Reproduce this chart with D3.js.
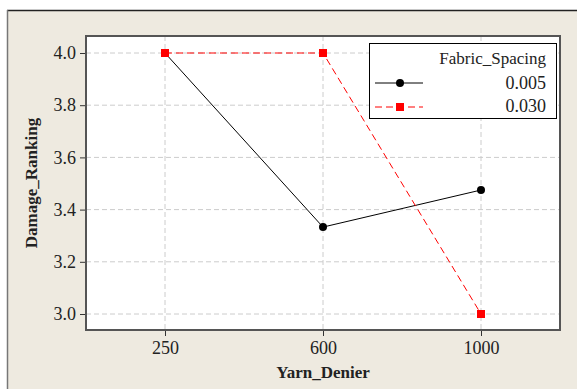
<!DOCTYPE html>
<html><head><meta charset="utf-8">
<script src="https://cdn.jsdelivr.net/npm/d3@7"></script>
<style>body{margin:0;background:#fff}svg{display:block}</style>
</head><body>
<script>
const categories = ["250", "600", "1000"];
const series005 = [4.0, 3.333, 3.475];
const series030 = [4.0, 4.0, 3.0];
const yTicks = [3.0, 3.2, 3.4, 3.6, 3.8, 4.0];
const legendTitle = "Fabric_Spacing";
const seriesNames = ["0.005", "0.030"];

const W = 577, H = 389;
const svg = d3.select("body").append("svg").attr("width", W).attr("height", H);
svg.append("rect").attr("x", 7).attr("y", 10).attr("width", W - 7).attr("height", H - 10).attr("fill", "#EEEAE0");
svg.append("line").attr("x1", 7).attr("x2", W).attr("y1", 10.5).attr("y2", 10.5).attr("stroke", "#222").attr("stroke-width", 1.5);
svg.append("line").attr("x1", 7.5).attr("x2", 7.5).attr("y1", 10).attr("y2", H).attr("stroke", "#777").attr("stroke-width", 1.5);

const L = 86, R = 560, T = 36, B = 330;
svg.append("rect").attr("x", L).attr("y", T).attr("width", R - L).attr("height", B - T).attr("fill", "#fff");

const x = d3.scalePoint().domain(categories).range([L, R]).padding(0.5);
const y = d3.scaleLinear().domain([3.0, 4.0]).range([314, 53]);

const font = "'Liberation Serif', 'Times New Roman', serif";

// grid
svg.append("g").selectAll("line").data(yTicks).join("line")
  .attr("x1", L).attr("x2", R).attr("y1", d => y(d)).attr("y2", d => y(d))
  .attr("stroke", "#ccc").attr("stroke-dasharray", "5,3");
svg.append("g").selectAll("line").data(categories).join("line")
  .attr("x1", d => x(d)).attr("x2", d => x(d)).attr("y1", T).attr("y2", B)
  .attr("stroke", "#ccc").attr("stroke-dasharray", "5,3");

// axes
const yAxis = svg.append("g").attr("transform", `translate(${L},0)`)
  .call(d3.axisLeft(y).tickValues(yTicks).tickFormat(d3.format(".1f")).tickSize(6).tickPadding(4));
const xAxis = svg.append("g").attr("transform", `translate(0,${B})`)
  .call(d3.axisBottom(x).tickSize(6).tickPadding(5));
[yAxis, xAxis].forEach(g => {
  g.select(".domain").remove();
  g.selectAll("line").attr("stroke", "#333");
  g.selectAll("text").attr("font-family", font).attr("font-size", 18).attr("fill", "#222");
});

// plot border
svg.append("rect").attr("x", L).attr("y", T).attr("width", R - L).attr("height", B - T)
  .attr("fill", "none").attr("stroke", "#555").attr("stroke-width", 2);

// lines
const line = d3.line().x((d, i) => x(categories[i])).y(d => y(d));
svg.append("path").datum(series005).attr("d", line).attr("fill", "none").attr("stroke", "#000").attr("stroke-width", 1);
svg.append("path").datum(series030).attr("d", line).attr("fill", "none").attr("stroke", "#f00").attr("stroke-width", 1).attr("stroke-dasharray", "7,4");
svg.append("g").selectAll("circle").data(series005).join("circle")
  .attr("cx", (d, i) => x(categories[i])).attr("cy", d => y(d)).attr("r", 4).attr("fill", "#000");
svg.append("g").selectAll("rect").data(series030).join("rect")
  .attr("x", (d, i) => x(categories[i]) - 4).attr("y", d => y(d) - 4).attr("width", 8).attr("height", 8).attr("fill", "#f00");

// legend
const lg = svg.append("g");
lg.append("rect").attr("x", 369.5).attr("y", 43.5).attr("width", 187).attr("height", 75).attr("fill", "#fff").attr("stroke", "#000");
lg.append("text").attr("x", 546).attr("y", 64).attr("text-anchor", "end").attr("font-family", font).attr("font-size", 17).attr("fill", "#222").text(legendTitle);
const rows = [89, 112];
lg.append("line").attr("x1", 375).attr("x2", 423).attr("y1", 83).attr("y2", 83).attr("stroke", "#000");
lg.append("circle").attr("cx", 400).attr("cy", 83).attr("r", 4).attr("fill", "#000");
lg.append("line").attr("x1", 375).attr("x2", 423).attr("y1", 107).attr("y2", 107).attr("stroke", "#f00").attr("stroke-dasharray", "7,4");
lg.append("rect").attr("x", 396).attr("y", 103).attr("width", 8).attr("height", 8).attr("fill", "#f00");
seriesNames.forEach((s, i) => {
  lg.append("text").attr("x", 546).attr("y", rows[i]).attr("text-anchor", "end").attr("font-family", font).attr("font-size", 18).attr("fill", "#222").text(s);
});

// titles
svg.append("text").attr("x", (L + R) / 2).attr("y", 378).attr("text-anchor", "middle")
  .attr("font-family", font).attr("font-size", 17).attr("font-weight", "bold").attr("fill", "#222").text("Yarn_Denier");
svg.append("text").attr("transform", `translate(37,${(T + B) / 2}) rotate(-90)`).attr("text-anchor", "middle")
  .attr("font-family", font).attr("font-size", 17).attr("font-weight", "bold").attr("fill", "#222").text("Damage_Ranking");
</script>
</body></html>
